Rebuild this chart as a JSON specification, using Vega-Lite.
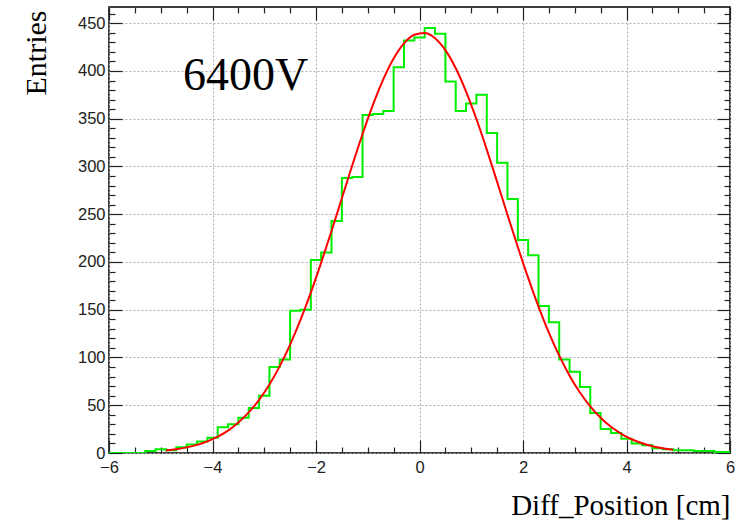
{
  "$schema": "https://vega.github.io/schema/vega-lite/v6.json",
  "width": 621,
  "height": 446,
  "autosize": "none",
  "padding": {"left": 109, "top": 7, "right": 18, "bottom": 68},
  "background": "#ffffff",
  "config": {
    "view": {"stroke": "#000000", "strokeWidth": 1.5},
    "axis": {
      "domain": false,
      "labelFont": "Liberation Sans",
      "labelFontSize": 16.5,
      "labelColor": "#222222",
      "labelFlush": false,
      "labelOverlap": false,
      "tickColor": "#222222",
      "tickWidth": 1.2,
      "gridColor": "#b0b0b0",
      "gridDash": [2, 2],
      "gridWidth": 1,
      "titleFont": "Liberation Serif",
      "titleFontSize": 29,
      "titleFontWeight": "normal",
      "titleColor": "#000000"
    }
  },
  "datasets": {
    "hist": [
      {"x": -6.0, "n": 0}, {"x": -5.8, "n": 0}, {"x": -5.6, "n": 0}, {"x": -5.4, "n": 0},
      {"x": -5.2, "n": 2}, {"x": -5.0, "n": 4}, {"x": -4.8, "n": 3}, {"x": -4.6, "n": 6},
      {"x": -4.4, "n": 9}, {"x": -4.2, "n": 12}, {"x": -4.0, "n": 16}, {"x": -3.8, "n": 27},
      {"x": -3.6, "n": 30}, {"x": -3.4, "n": 37}, {"x": -3.2, "n": 47}, {"x": -3.0, "n": 60},
      {"x": -2.8, "n": 90}, {"x": -2.6, "n": 98}, {"x": -2.4, "n": 149}, {"x": -2.2, "n": 150},
      {"x": -2.0, "n": 202}, {"x": -1.8, "n": 210}, {"x": -1.6, "n": 243}, {"x": -1.4, "n": 288},
      {"x": -1.2, "n": 289}, {"x": -1.0, "n": 354}, {"x": -0.8, "n": 355}, {"x": -0.6, "n": 358},
      {"x": -0.4, "n": 404}, {"x": -0.2, "n": 432}, {"x": 0.0, "n": 435}, {"x": 0.2, "n": 445},
      {"x": 0.4, "n": 439}, {"x": 0.6, "n": 389}, {"x": 0.8, "n": 358}, {"x": 1.0, "n": 366},
      {"x": 1.2, "n": 375}, {"x": 1.4, "n": 335}, {"x": 1.6, "n": 304}, {"x": 1.8, "n": 266},
      {"x": 2.0, "n": 223}, {"x": 2.2, "n": 207}, {"x": 2.4, "n": 154}, {"x": 2.6, "n": 137},
      {"x": 2.8, "n": 98}, {"x": 3.0, "n": 85}, {"x": 3.2, "n": 69}, {"x": 3.4, "n": 42},
      {"x": 3.6, "n": 25}, {"x": 3.8, "n": 21}, {"x": 4.0, "n": 15}, {"x": 4.2, "n": 10},
      {"x": 4.4, "n": 8}, {"x": 4.6, "n": 5}, {"x": 4.8, "n": 4}, {"x": 5.0, "n": 3},
      {"x": 5.2, "n": 3}, {"x": 5.4, "n": 2}, {"x": 5.6, "n": 2}, {"x": 5.8, "n": 1},
      {"x": 6.0, "n": 1}
    ],
    "fit": [
      {"x": -4.9, "f": 2.7}, {"x": -4.7, "f": 4.0}, {"x": -4.5, "f": 5.9}, {"x": -4.3, "f": 8.5},
      {"x": -4.1, "f": 12.2}, {"x": -3.9, "f": 17.1}, {"x": -3.7, "f": 23.5}, {"x": -3.5, "f": 31.9},
      {"x": -3.3, "f": 42.5}, {"x": -3.1, "f": 55.7}, {"x": -2.9, "f": 71.8}, {"x": -2.7, "f": 91.0},
      {"x": -2.5, "f": 113.5}, {"x": -2.3, "f": 139.3}, {"x": -2.1, "f": 168.0}, {"x": -1.9, "f": 199.3},
      {"x": -1.7, "f": 232.5}, {"x": -1.5, "f": 266.7}, {"x": -1.3, "f": 301.0}, {"x": -1.1, "f": 334.0},
      {"x": -0.9, "f": 364.6}, {"x": -0.7, "f": 391.3}, {"x": -0.5, "f": 413.1}, {"x": -0.3, "f": 428.9},
      {"x": -0.1, "f": 437.9}, {"x": 0.1, "f": 439.8}, {"x": 0.3, "f": 434.3}, {"x": 0.5, "f": 421.8},
      {"x": 0.7, "f": 402.9}, {"x": 0.9, "f": 378.5}, {"x": 1.1, "f": 349.7}, {"x": 1.3, "f": 317.7},
      {"x": 1.5, "f": 283.9}, {"x": 1.7, "f": 249.5}, {"x": 1.9, "f": 215.7}, {"x": 2.1, "f": 183.3},
      {"x": 2.3, "f": 153.3}, {"x": 2.5, "f": 126.0}, {"x": 2.7, "f": 101.9}, {"x": 2.9, "f": 81.0},
      {"x": 3.1, "f": 63.4}, {"x": 3.3, "f": 48.8}, {"x": 3.5, "f": 36.9}, {"x": 3.7, "f": 27.4},
      {"x": 3.9, "f": 20.1}, {"x": 4.1, "f": 14.4}, {"x": 4.3, "f": 10.2}, {"x": 4.5, "f": 7.1},
      {"x": 4.7, "f": 4.9}, {"x": 4.9, "f": 3.3}
    ]
  },
  "resolve": {"axis": {"x": "independent", "y": "independent"}},
  "layer": [
    {
      "data": {"name": "hist"},
      "mark": {"type": "point", "opacity": 0},
      "encoding": {
        "x": {"field": "x", "type": "quantitative",
              "scale": {"domain": [-6, 6], "nice": false, "zero": false},
              "axis": {"orient": "bottom", "values": [-6, -4, -2, 0, 2, 4, 6], "tickSize": -13,
                       "grid": true, "labels": true, "labelPadding": 19, "labelBaseline": "top",
                       "format": "d", "title": "Diff_Position [cm]",
                       "titleX": 621, "titleY": 61, "titleAlign": "right", "titleBaseline": "alphabetic",
                       "titleAnchor": "end"}},
        "y": {"field": "n", "type": "quantitative",
              "scale": {"domain": [0, 467], "nice": false, "zero": false},
              "axis": {"orient": "left", "values": [0, 50, 100, 150, 200, 250, 300, 350, 400, 450],
                       "tickSize": -13, "grid": true, "labels": true, "labelPadding": 17,
                       "labelBaseline": "middle", "format": "d", "title": "Entries",
                       "titleX": -64, "titleY": 3, "titleAngle": -90, "titleAlign": "right",
                       "titleBaseline": "alphabetic", "titleAnchor": "end", "titleFontSize": 30}}
      }
    },
    {
      "data": {"name": "hist"},
      "mark": {"type": "point", "opacity": 0},
      "encoding": {
        "x": {"field": "x", "type": "quantitative",
              "scale": {"domain": [-6, 6], "nice": false, "zero": false},
              "axis": {"orient": "bottom", "values": [-5.5, -5, -4.5, -3.5, -3, -2.5, -1.5, -1, -0.5, 0.5, 1, 1.5, 2.5, 3, 3.5, 4.5, 5, 5.5],
                       "tickSize": -6, "grid": false, "labels": false, "title": null}},
        "y": {"field": "n", "type": "quantitative",
              "scale": {"domain": [0, 467], "nice": false, "zero": false},
              "axis": {"orient": "left", "values": [10, 20, 30, 40, 60, 70, 80, 90, 110, 120, 130, 140, 160, 170, 180, 190, 210, 220, 230, 240, 260, 270, 280, 290, 310, 320, 330, 340, 360, 370, 380, 390, 410, 420, 430, 440, 460],
                       "tickSize": -6, "grid": false, "labels": false, "title": null}}
      }
    },
    {
      "data": {"name": "hist"},
      "mark": {"type": "point", "opacity": 0},
      "encoding": {
        "x": {"field": "x", "type": "quantitative",
              "scale": {"domain": [-6, 6], "nice": false, "zero": false},
              "axis": {"orient": "top", "values": [-6, -4, -2, 0, 2, 4, 6],
                       "tickSize": -13, "grid": false, "labels": false, "title": null}},
        "y": {"field": "n", "type": "quantitative",
              "scale": {"domain": [0, 467], "nice": false, "zero": false},
              "axis": {"orient": "right", "values": [0, 50, 100, 150, 200, 250, 300, 350, 400, 450],
                       "tickSize": -13, "grid": false, "labels": false, "title": null}}
      }
    },
    {
      "data": {"name": "hist"},
      "mark": {"type": "point", "opacity": 0},
      "encoding": {
        "x": {"field": "x", "type": "quantitative",
              "scale": {"domain": [-6, 6], "nice": false, "zero": false},
              "axis": {"orient": "top", "values": [-5.5, -5, -4.5, -3.5, -3, -2.5, -1.5, -1, -0.5, 0.5, 1, 1.5, 2.5, 3, 3.5, 4.5, 5, 5.5],
                       "tickSize": -6, "grid": false, "labels": false, "title": null}},
        "y": {"field": "n", "type": "quantitative",
              "scale": {"domain": [0, 467], "nice": false, "zero": false},
              "axis": {"orient": "right", "values": [10, 20, 30, 40, 60, 70, 80, 90, 110, 120, 130, 140, 160, 170, 180, 190, 210, 220, 230, 240, 260, 270, 280, 290, 310, 320, 330, 340, 360, 370, 380, 390, 410, 420, 430, 440, 460],
                       "tickSize": -6, "grid": false, "labels": false, "title": null}}
      }
    },
    {
      "data": {"name": "hist"},
      "mark": {"type": "line", "interpolate": "step", "color": "#00ee00", "strokeWidth": 2, "clip": true},
      "encoding": {
        "x": {"field": "x", "type": "quantitative", "scale": {"domain": [-6, 6], "nice": false, "zero": false}, "axis": null},
        "y": {"field": "n", "type": "quantitative", "scale": {"domain": [0, 467], "nice": false, "zero": false}, "axis": null}
      }
    },
    {
      "data": {"name": "fit"},
      "mark": {"type": "line", "interpolate": "monotone", "color": "#ff0000", "strokeWidth": 2, "clip": true},
      "encoding": {
        "x": {"field": "x", "type": "quantitative", "scale": {"domain": [-6, 6], "nice": false, "zero": false}, "axis": null},
        "y": {"field": "f", "type": "quantitative", "scale": {"domain": [0, 467], "nice": false, "zero": false}, "axis": null}
      }
    },
    {
      "data": {"values": [{"label": "6400V"}]},
      "mark": {"type": "text", "font": "Liberation Serif", "fontSize": 46, "color": "#000000", "align": "left", "baseline": "alphabetic"},
      "encoding": {
        "x": {"datum": -4.57, "type": "quantitative", "scale": {"domain": [-6, 6], "nice": false, "zero": false}, "axis": null},
        "y": {"datum": 380, "type": "quantitative", "scale": {"domain": [0, 467], "nice": false, "zero": false}, "axis": null},
        "text": {"field": "label", "type": "nominal"}
      }
    }
  ]
}
